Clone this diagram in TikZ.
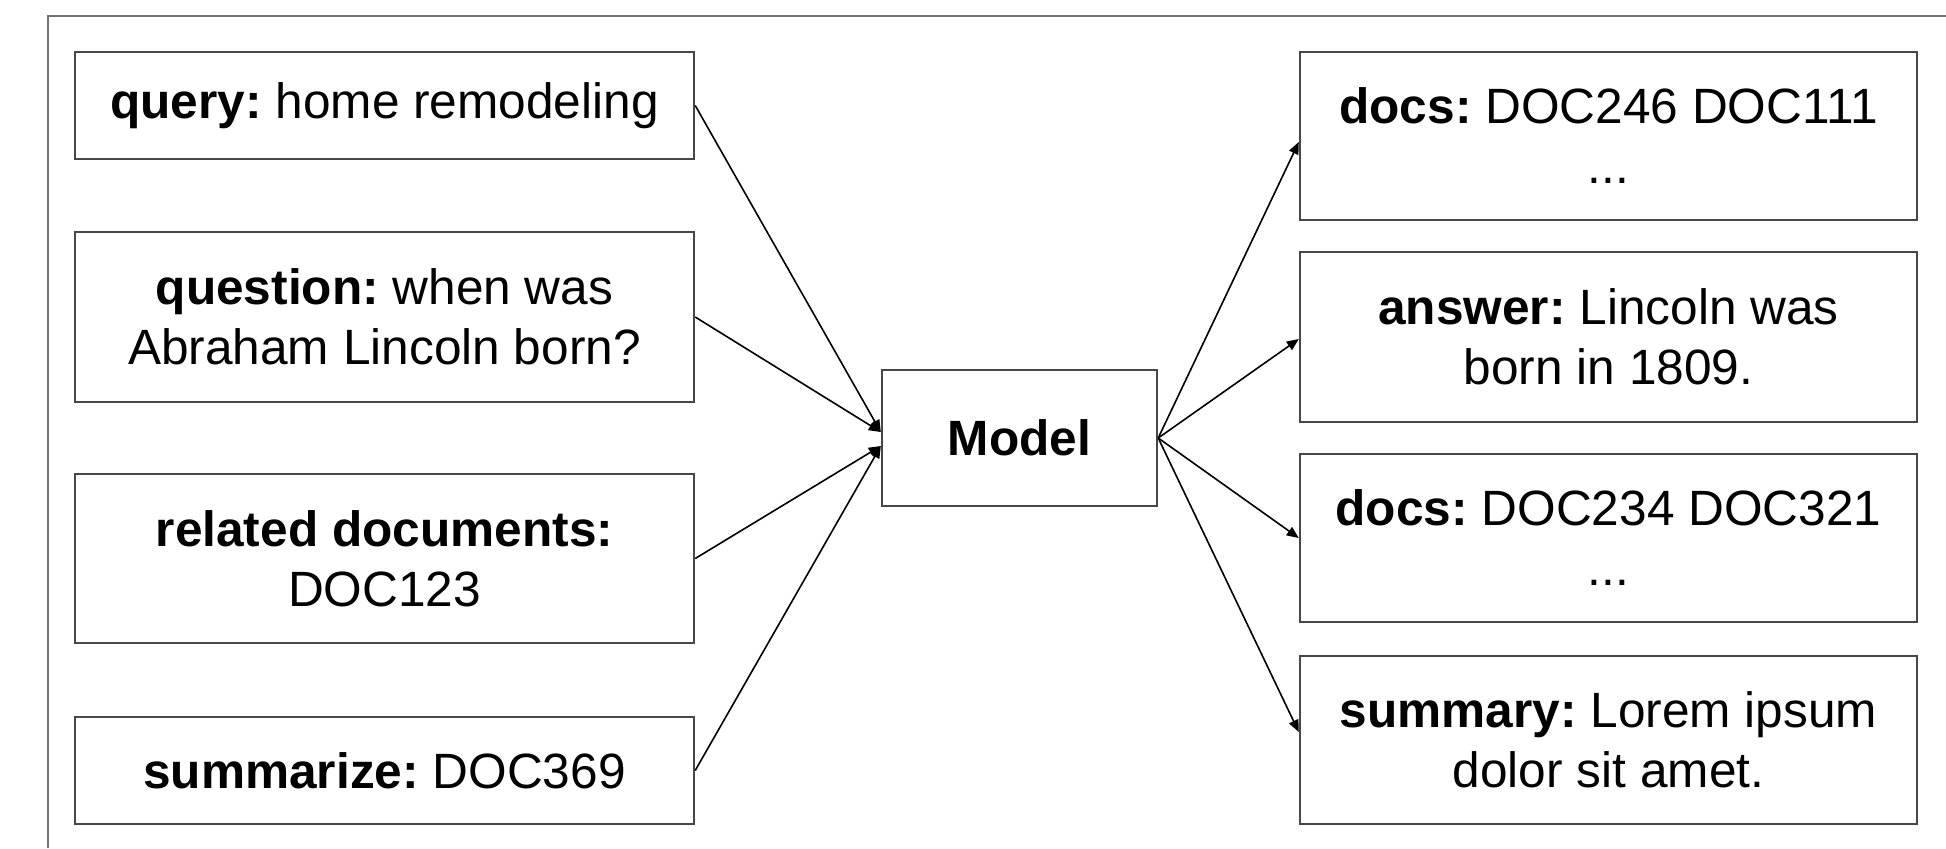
\documentclass[tikz,border=0pt]{standalone}
\usepackage{fontspec}
\setmainfont{Liberation Sans}
\usetikzlibrary{arrows.meta}
\frenchspacing

\tikzset{
  box/.style={draw=black!72, line width=1.2pt, inner sep=0pt, align=center,
              font=\fontsize{24.8}{30}\selectfont},
  inbox/.style={box, minimum width=309.5pt},
  outbox/.style={box, minimum width=308.5pt, minimum height=84pt},
  frameline/.style={draw=black!55, line width=1.4pt},
  conn/.style={draw=black, line width=0.8pt,
               -{Triangle[length=6pt,width=5pt]}},
}

\begin{document}
\begin{tikzpicture}[x=0.5pt, y=-0.5pt]
  \useasboundingbox (0,0) rectangle (1946,848);

  % outer frame (top and left edges inside the page)
  \draw[frameline] (48,848) -- (48,16) -- (1946,16);

  % inputs
  \node[inbox, minimum height=53.5pt] (query)     at (384.5,105.5) {\textbf{query:} home remodeling};
  \node[inbox, minimum height=85pt]   (question)  at (384.5,317)   {\textbf{question:} when was\\Abraham Lincoln born?};
  \node[inbox, minimum height=84.5pt] (related)   at (384.5,558.5) {\textbf{related documents:}\\DOC123};
  \node[inbox, minimum height=53.5pt] (summarize) at (384.5,770.5) {\textbf{summarize:} DOC369};

  % model
  \node[box, minimum width=137.5pt, minimum height=68pt] (model) at (1019.5,438) {\textbf{Model}};

  % outputs
  \node[outbox] (docsA)   at (1608.5,136) {\textbf{docs:} DOC246 DOC111\\...};
  \node[outbox, minimum height=85pt] (answer) at (1608.5,337) {\textbf{answer:} Lincoln was\\born in 1809.};
  \node[outbox] (docsB)   at (1608.5,538) {\textbf{docs:} DOC234 DOC321\\...};
  \node[outbox] (summary) at (1608.5,740) {\textbf{summary:} Lorem ipsum\\dolor sit amet.};

  % inputs into the model
  \draw[conn] (query.east)     -- ([yshift=3pt]model.west);
  \draw[conn] (question.east)  -- ([yshift=3pt]model.west);
  \draw[conn] (related.east)   -- ([yshift=-4pt]model.west);
  \draw[conn] (summarize.east) -- ([yshift=-4pt]model.west);

  % model outputs
  \draw[conn] (model.east) -- ([yshift=-3pt]docsA.west);
  \draw[conn] (model.east) -- ([yshift=-1pt]answer.west);
  \draw[conn] (model.east) -- (docsB.west);
  \draw[conn] (model.east) -- ([yshift=4pt]summary.west);
\end{tikzpicture}
\end{document}
